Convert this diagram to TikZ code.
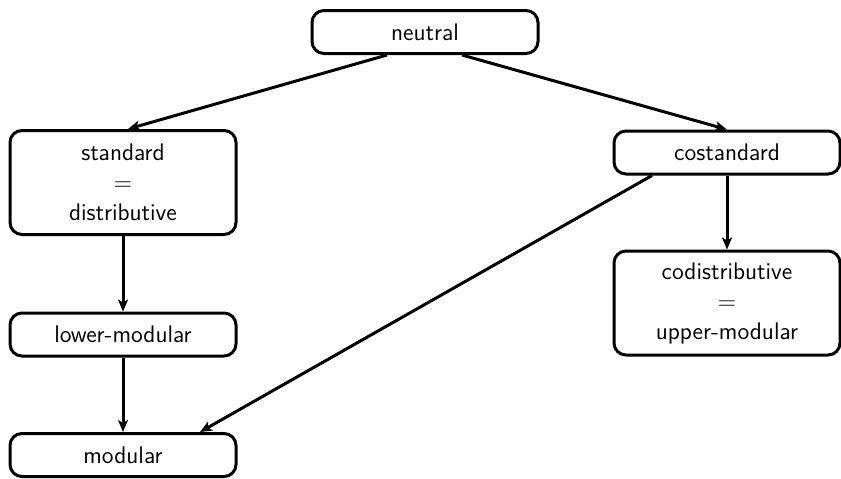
\documentclass[tikz,border=0pt]{standalone}
\usetikzlibrary{arrows.meta}
\begin{document}
\begin{tikzpicture}[x=0.5pt,y=-0.5pt,
  box/.style={draw, line width=1.5pt, rounded corners=6pt, align=center,
    minimum width=113pt, inner sep=0pt,
    font=\sffamily\fontsize{12}{15}\selectfont},
  onebox/.style={box, minimum height=21.5pt},
  threebox/.style={box, minimum height=52pt},
  link/.style={line width=1.5pt, -{Stealth[length=6pt,width=5pt,inset=1.5pt]}}]
\useasboundingbox (0,0) rectangle (841,478);

\node[onebox]   (neutral)  at (425,32)    {neutral};
\node[threebox] (standard) at (123,182.5) {standard\\$=$\\distributive};
\node[onebox]   (costd)    at (727,152.5) {costandard};
\node[threebox] (codist)   at (727,303)   {codistributive\\$=$\\upper-modular};
\node[onebox]   (lower)    at (123,334.5) {lower-modular};
\node[onebox]   (modular)  at (123,455)   {modular};

\draw[link] ([xshift=-19pt]neutral.south) -- ([xshift=2.5pt]standard.north);
\draw[link] ([xshift=18.5pt]neutral.south) -- (costd.north);
\draw[link] (standard) -- (lower);
\draw[link] (lower) -- (modular);
\draw[link] (costd) -- (codist);
\draw[link] ([xshift=-37.5pt]costd.south) -- ([xshift=38.5pt]modular.north);
\end{tikzpicture}
\end{document}
